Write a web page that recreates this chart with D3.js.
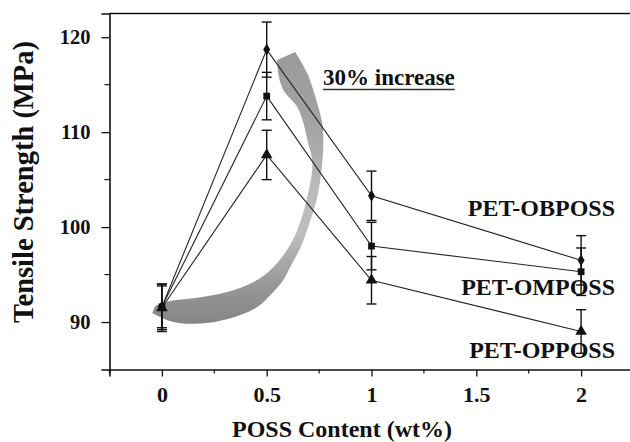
<!DOCTYPE html>
<html>
<head>
<meta charset="utf-8">
<script src="https://cdn.jsdelivr.net/npm/d3@7"></script>
</head>
<body style="margin:0; background:#fff">
<svg id="chart" width="630" height="442"></svg>
<script>
// POSS content (wt%)
const possContent = [0, 0.5, 1, 2];

// tensile strength (MPa) per series
const obpossValues = [91.6, 118.7, 103.3, 96.5];
const ompossValues = [91.6, 113.8, 98.0, 95.3];
const oppossValues = [91.5, 107.6, 94.4, 89.0];

// error bar half widths (MPa)
const obpossErrors = [2.4, 2.9, 2.6, 2.6];
const ompossErrors = [2.2, 2.5, 2.5, 2.5];
const oppossErrors = [2.5, 2.6, 2.5, 2.3];

const seriesNames = ['PET-OBPOSS', 'PET-OMPOSS', 'PET-OPPOSS'];

const xTicks = [0, 0.5, 1, 1.5, 2];
const xMinorTicks = [-0.25, 0.25, 0.75, 1.25, 1.75];
const yTicks = [90, 100, 110, 120];
const yMinorTicks = [95, 105, 115];

const FONT = '"Liberation Serif", "Times New Roman", serif';
const svg = d3.select('#chart');

const x = d3.scaleLinear().domain([-0.25, 2.25]).range([109.5, 633.5]);
const y = d3.scaleLinear().domain([85, 122.5]).range([369.5, 13.5]);

function serif(sel, size) {
  return sel.style('font-family', FONT)
    .style('font-weight', 'bold')
    .style('font-size', size + 'px')
    .attr('fill', '#111');
}

// frame: top line, left axis, bottom axis
svg.append('line')
  .attr('x1', x(-0.25)).attr('x2', 630)
  .attr('y1', y(122.5)).attr('y2', y(122.5))
  .attr('stroke', '#111').attr('stroke-width', 1.6);

const xAxis = svg.append('g')
  .attr('transform', 'translate(0,' + y(85) + ')')
  .call(d3.axisBottom(x).tickValues(xTicks).tickSize(7).tickPadding(10)
    .tickFormat(d3.format('')));
xAxis.select('.domain').attr('stroke', '#111').attr('stroke-width', 1.6);
xAxis.selectAll('.tick line').attr('stroke', '#111').attr('stroke-width', 1.3);
serif(xAxis.selectAll('.tick text'), 22);
xAxis.selectAll('.minor')
  .data(xMinorTicks)
  .enter().append('line')
    .attr('x1', d => x(d)).attr('x2', d => x(d))
    .attr('y1', 0).attr('y2', 4)
    .attr('stroke', '#111').attr('stroke-width', 1.2);

const yAxis = svg.append('g')
  .attr('transform', 'translate(' + x(-0.25) + ',0)')
  .call(d3.axisLeft(y).tickValues(yTicks).tickSize(8).tickPadding(11));
yAxis.select('.domain').attr('stroke', '#111').attr('stroke-width', 1.6);
yAxis.selectAll('.tick line').attr('stroke', '#111').attr('stroke-width', 1.3);
serif(yAxis.selectAll('.tick text'), 20.5);
yAxis.selectAll('.minor')
  .data(yMinorTicks)
  .enter().append('line')
    .attr('y1', d => y(d)).attr('y2', d => y(d))
    .attr('x1', 0).attr('x2', -5)
    .attr('stroke', '#111').attr('stroke-width', 1.2);

// axis titles
serif(svg.append('text'), 24)
  .attr('x', 342).attr('y', 437)
  .attr('text-anchor', 'middle')
  .text('POSS Content (wt%)');

serif(svg.append('text'), 28.5)
  .attr('transform', 'translate(33,182) rotate(-90)')
  .attr('text-anchor', 'middle')
  .text('Tensile Strength (MPa)');

// curved gray arrow (annotation), edges in data units
const arrowOuter = [
  [-0.046, 90.95], [0.054, 90.0], [0.216, 89.89], [0.374, 90.74], [0.455, 91.58],
  [0.522, 92.95], [0.579, 94.43], [0.617, 96.01], [0.660, 97.80], [0.693, 99.69],
  [0.741, 103.17], [0.765, 106.75], [0.770, 109.18], [0.765, 110.97], [0.746, 112.66],
  [0.722, 114.45], [0.693, 116.24], [0.636, 118.45]
];
const arrowInner = [
  [0.550, 117.61], [0.555, 116.24], [0.579, 114.45], [0.646, 112.66], [0.675, 110.97],
  [0.694, 109.18], [0.718, 106.75], [0.694, 103.17], [0.646, 99.69], [0.603, 97.80],
  [0.550, 96.22], [0.484, 94.85], [0.397, 93.79], [0.293, 93.06], [0.159, 92.53],
  [0.040, 92.21], [-0.032, 91.69]
];
const grad = svg.append('defs').append('linearGradient')
  .attr('id', 'arrowGrad')
  .attr('gradientUnits', 'userSpaceOnUse')
  .attr('x1', 0).attr('x2', 0).attr('y1', y(119)).attr('y2', y(90));
grad.append('stop').attr('offset', '0%').attr('stop-color', '#999');
grad.append('stop').attr('offset', '30%').attr('stop-color', '#a4a4a4');
grad.append('stop').attr('offset', '52%').attr('stop-color', '#bababa');
grad.append('stop').attr('offset', '68%').attr('stop-color', '#bdbdbd');
grad.append('stop').attr('offset', '88%').attr('stop-color', '#959595');
grad.append('stop').attr('offset', '100%').attr('stop-color', '#868686');

const edge = d3.line()
  .x(d => x(d[0])).y(d => y(d[1]))
  .curve(d3.curveCatmullRom);
svg.append('path')
  .attr('d', edge(arrowOuter) + 'L' + edge(arrowInner).slice(1) + 'Z')
  .attr('fill', 'url(#arrowGrad)');

// annotation text
const note = serif(svg.append('text'), 23)
  .attr('x', 323).attr('y', 85)
  .text('30% increase');
const noteLen = note.node().getComputedTextLength();
svg.append('line')
  .attr('x1', 323).attr('x2', 323 + noteLen)
  .attr('y1', 89.5).attr('y2', 89.5)
  .attr('stroke', '#333').attr('stroke-width', 1.6);

// series labels (drawn under the error bars)
const labelBaselines = [215.5, 295, 358];
serif(svg.selectAll('.serieslabel')
  .data(seriesNames)
  .enter().append('text')
    .attr('class', 'serieslabel'), 24)
    .attr('x', 615)
    .attr('y', (d, i) => labelBaselines[i])
    .attr('text-anchor', 'end')
    .text(d => d);

const series = [
  { values: obpossValues, errors: obpossErrors, symbol: d3.symbolDiamond, size: 42 },
  { values: ompossValues, errors: ompossErrors, symbol: d3.symbolSquare, size: 46 },
  { values: oppossValues, errors: oppossErrors, symbol: d3.symbolTriangle, size: 58 }
];

const line = d3.line()
  .x((d, i) => x(possContent[i]))
  .y(d => y(d));

series.forEach(s => {
  svg.append('path')
    .attr('d', line(s.values))
    .attr('fill', 'none')
    .attr('stroke', '#222')
    .attr('stroke-width', 1.1);
});

series.forEach(s => {
  const g = svg.append('g');
  s.values.forEach((v, i) => {
    const cx = x(possContent[i]);
    const top = y(v + s.errors[i]);
    const bottom = y(v - s.errors[i]);
    g.append('line')
      .attr('x1', cx).attr('x2', cx).attr('y1', top).attr('y2', bottom)
      .attr('stroke', '#111').attr('stroke-width', 1.4);
    [top, bottom].forEach(cy => {
      g.append('line')
        .attr('x1', cx - 5).attr('x2', cx + 5).attr('y1', cy).attr('y2', cy)
        .attr('stroke', '#111').attr('stroke-width', 1.4);
    });
  });
});

series.forEach(s => {
  svg.append('g').selectAll('path')
    .data(s.values)
    .enter().append('path')
      .attr('transform', (d, i) => 'translate(' + x(possContent[i]) + ',' + y(d) + ')')
      .attr('d', d3.symbol().type(s.symbol).size(s.size))
      .attr('fill', '#111');
});
</script>
</body>
</html>
